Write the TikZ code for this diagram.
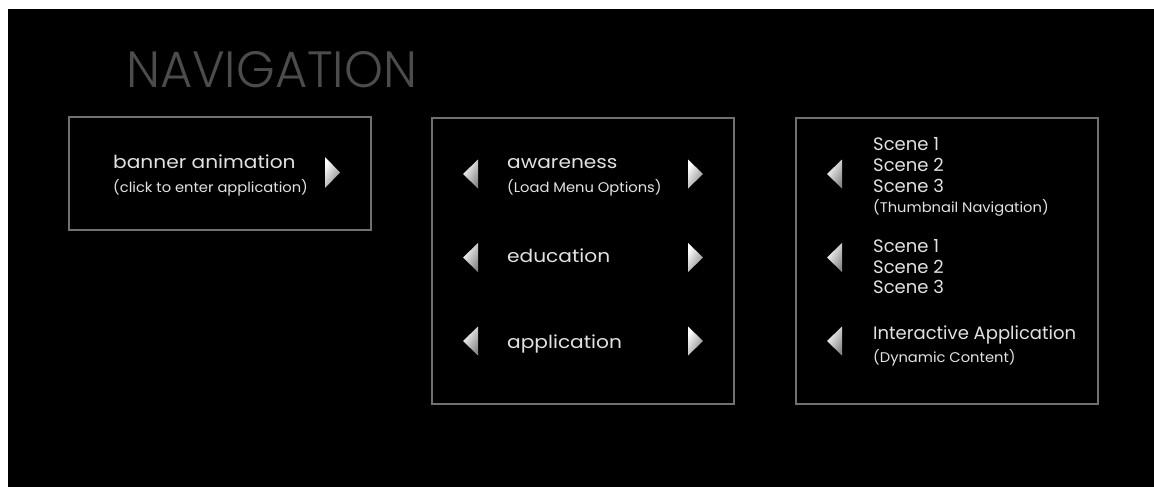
\documentclass[tikz,border=0pt]{standalone}
\usepackage{fontspec}
\setmainfont{Poppins}
\newfontfamily\bodyfont{Poppins}[FakeStretch=1.12]
\newfontfamily\narrowfont{Poppins}[FakeStretch=1.0]
\newfontfamily\smallfont{Poppins}[FakeStretch=1.05]
\newfontfamily\titlefont{Poppins Light}[FakeStretch=0.97]
\begin{document}
\begin{tikzpicture}[x=1pt,y=-1pt,
  panel/.style={draw=boxgray,line width=1.3pt},
  bigtxt/.style={anchor=base west,inner sep=0pt,text=txtgray,font=\bodyfont\fontsize{18}{18}\selectfont},
  scenetxt/.style={bigtxt,font=\narrowfont\fontsize{18}{18}\selectfont},
  smalltxt/.style={anchor=base west,inner sep=0pt,text=txtgray,font=\smallfont\fontsize{14}{14}\selectfont},
  tri/.style={draw=none,shading=axis,left color=white,right color=arrgray,shading angle=60}]
\definecolor{boxgray}{HTML}{707070}
\definecolor{txtgray}{HTML}{E2E2E2}
\definecolor{titlegray}{HTML}{4C4C4C}
\definecolor{arrgray}{HTML}{8A8A8A}
\useasboundingbox (0,0) rectangle (1154,487);
\fill[white] (0,0) rectangle (1154,487);
\fill[black] (8,9) rectangle (1154,487);
\node[anchor=base west,inner sep=0pt,text=titlegray,font=\titlefont\fontsize{51}{51}\selectfont] (title) at (126,88) {NAVIGATION};
% panels
\draw[panel] (69,117) rectangle (371,230);
\draw[panel] (432,118) rectangle (734,404);
\draw[panel] (796,118) rectangle (1098,404);
% panel 1
\node[bigtxt] (banner) at (113,168) {banner animation};
\node[smalltxt] (click) at (113,192) {(click to enter application)};
\fill[tri] (325,157) -- (340,172.5) -- (325,188) -- cycle;
% panel 2
\node[bigtxt] (aw) at (507,168) {awareness};
\node[smalltxt] (load) at (507,192) {(Load Menu Options)};
\node[bigtxt] (edu) at (507,262) {education};
\node[bigtxt] (app) at (507,348) {application};
\foreach \yc in {174,257.5,341} {
  \fill[tri] (478,\yc-14.5) -- (463,\yc) -- (478,\yc+14.5) -- cycle;
  \fill[tri] (688,\yc-14.5) -- (703,\yc) -- (688,\yc+14.5) -- cycle;
}
% panel 3
\node[scenetxt] (s1a) at (873,150) {Scene 1};
\node[scenetxt] (s2a) at (873,171) {Scene 2};
\node[scenetxt] (s3a) at (873,192) {Scene 3};
\node[smalltxt] (thumb) at (873,212) {(Thumbnail Navigation)};
\node[scenetxt] (s1b) at (873,252) {Scene 1};
\node[scenetxt] (s2b) at (873,273) {Scene 2};
\node[scenetxt] (s3b) at (873,293) {Scene 3};
\node[scenetxt] (ia) at (873,339) {Interactive Application};
\node[smalltxt] (dyn) at (873,362) {(Dynamic Content)};
\foreach \yc in {174,257.5,341} {
  \fill[tri] (842,\yc-14.5) -- (827,\yc) -- (842,\yc+14.5) -- cycle;
}
\end{tikzpicture}
\end{document}
